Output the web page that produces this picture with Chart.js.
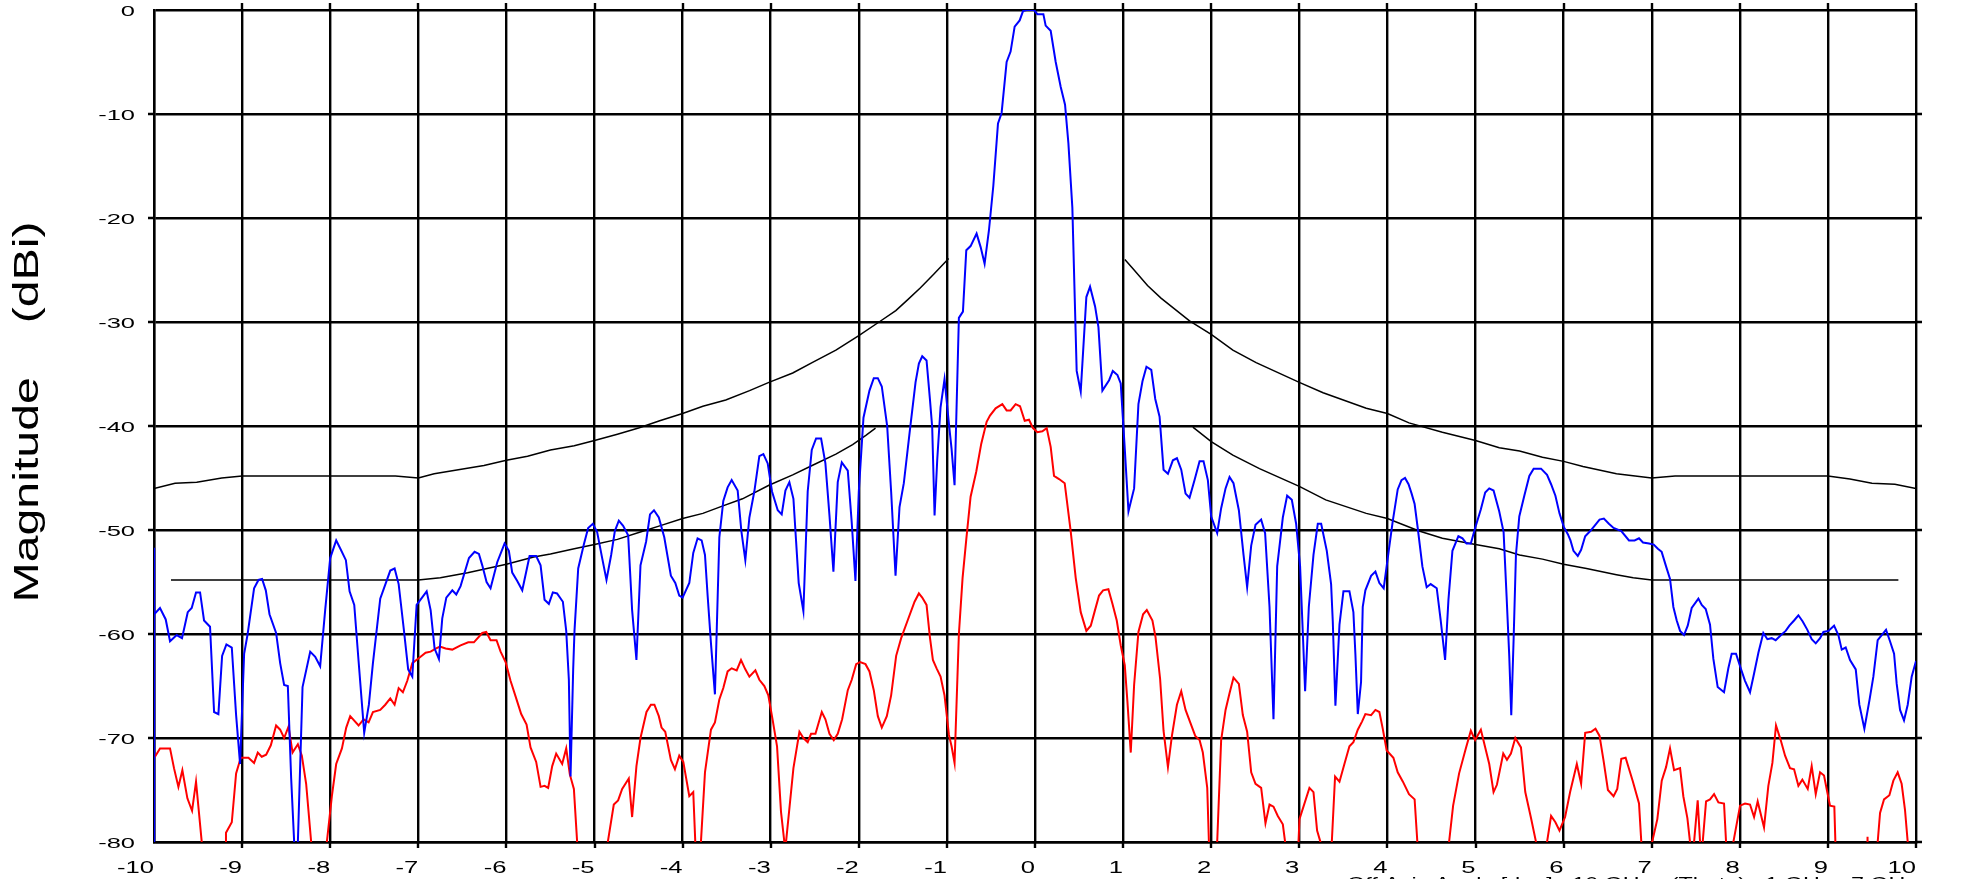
<!DOCTYPE html>
<html>
<head>
<meta charset="utf-8">
<title>Magnitude vs angle</title>
<script src="https://cdn.jsdelivr.net/npm/chart.js@4.4.1/dist/chart.umd.min.js"></script>
<style>
  html, body { margin: 0; padding: 0; background: #fff; }
  canvas { display: block; }
</style>
</head>
<body>
<canvas id="chartCanvas" width="1965" height="879"></canvas>
<script>
// axis ranges
var angleMin = -10, angleMax = 10, angleStep = 1
var gainMin = -80, gainMax = 0, gainStep = 10

var yTitle = 'Magnitude    (dBi)'
var xTitle = 'Off Axis Angle [deg]   10 GHz   (Theta)   1 GHz   7 GHz'

// co-polar pattern (blue); -100 = below the plotted range
var coAngle = [
  -10, -10, -9.995, -9.932, -9.867, -9.818, -9.742, -9.682, -9.617, -9.572, -9.523, -9.477, -9.432, -9.364,
  -9.318, -9.269, -9.227, -9.178, -9.117, -9.068, -9.023, -8.977, -8.939, -8.864, -8.814, -8.773, -8.731,
  -8.689, -8.614, -8.568, -8.523, -8.481, -8.443, -8.409, -8.405, -8.371, -8.367, -8.314, -8.227, -8.170,
  -8.114, -8.057, -8.000, -7.932, -7.879, -7.822, -7.780, -7.727, -7.678, -7.614, -7.561, -7.515, -7.432,
  -7.318, -7.269, -7.223, -7.165, -7.115, -7.068, -7.019, -6.905, -6.860, -6.815, -6.766, -6.728, -6.682,
  -6.614, -6.569, -6.520, -6.425, -6.361, -6.312, -6.274, -6.225, -6.180, -6.104, -6.021, -5.972, -5.934,
  -5.877, -5.820, -5.737, -5.662, -5.612, -5.567, -5.518, -5.473, -5.425, -5.359, -5.321, -5.291, -5.272,
  -5.242, -5.227, -5.185, -5.121, -5.072, -5.019, -4.970, -4.913, -4.864, -4.811, -4.769, -4.724, -4.675,
  -4.618, -4.573, -4.524, -4.478, -4.414, -4.370, -4.325, -4.270, -4.208, -4.133, -4.083, -4.038, -4.000,
  -3.924, -3.879, -3.830, -3.784, -3.746, -3.716, -3.678, -3.633, -3.583, -3.538, -3.489, -3.443, -3.375,
  -3.333, -3.288, -3.242, -3.186, -3.129, -3.083, -3.034, -2.985, -2.920, -2.875, -2.833, -2.788, -2.742,
  -2.682, -2.629, -2.580, -2.534, -2.485, -2.428, -2.379, -2.333, -2.288, -2.239, -2.193, -2.125, -2.080,
  -2.038, -2.000, -1.947, -1.879, -1.830, -1.784, -1.739, -1.678, -1.633, -1.583, -1.538, -1.489, -1.420,
  -1.356, -1.318, -1.280, -1.231, -1.193, -1.167, -1.140, -1.110, -1.072, -1.027, -0.977, -0.947, -0.913,
  -0.864, -0.818, -0.780, -0.731, -0.663, -0.617, -0.572, -0.523, -0.473, -0.420, -0.379, -0.322, -0.277,
  -0.231, -0.174, -0.136, -0.095, -0.011, 0.027, 0.095, 0.121, 0.178, 0.235, 0.292, 0.341, 0.379, 0.424,
  0.451, 0.473, 0.519, 0.583, 0.625, 0.682, 0.720, 0.765, 0.841, 0.883, 0.936, 0.973, 1.019, 1.061, 1.125,
  1.174, 1.220, 1.265, 1.320, 1.365, 1.414, 1.459, 1.509, 1.565, 1.611, 1.660, 1.709, 1.754, 1.811, 1.868,
  1.913, 1.962, 2.000, 2.068, 2.113, 2.163, 2.208, 2.253, 2.314, 2.367, 2.408, 2.454, 2.503, 2.567, 2.612,
  2.662, 2.707, 2.749, 2.813, 2.862, 2.915, 2.964, 3.009, 3.040, 3.066, 3.108, 3.161, 3.210, 3.248, 3.312,
  3.361, 3.380, 3.410, 3.456, 3.501, 3.569, 3.614, 3.637, 3.664, 3.701, 3.720, 3.750, 3.815, 3.864, 3.909,
  3.958, 4.015, 4.060, 4.117, 4.160, 4.200, 4.240, 4.275, 4.309, 4.347, 4.397, 4.446, 4.491, 4.560, 4.605,
  4.655, 4.693, 4.738, 4.806, 4.852, 4.898, 4.947, 4.996, 5.061, 5.110, 5.156, 5.205, 5.269, 5.319, 5.353,
  5.383, 5.406, 5.433, 5.459, 5.497, 5.554, 5.611, 5.660, 5.744, 5.812, 5.858, 5.907, 5.953, 6.002, 6.048,
  6.078, 6.112, 6.161, 6.199, 6.245, 6.302, 6.351, 6.408, 6.457, 6.514, 6.567, 6.655, 6.742, 6.806, 6.856,
  6.901, 6.970, 7.023, 7.070, 7.113, 7.163, 7.208, 7.246, 7.284, 7.322, 7.367, 7.409, 7.454, 7.530, 7.568,
  7.613, 7.662, 7.700, 7.749, 7.821, 7.870, 7.908, 7.957, 8.003, 8.059, 8.116, 8.162, 8.211, 8.267, 8.313,
  8.362, 8.407, 8.468, 8.521, 8.563, 8.616, 8.665, 8.714, 8.767, 8.816, 8.862, 8.911, 8.949, 9.006, 9.070,
  9.119, 9.157, 9.202, 9.251, 9.316, 9.357, 9.414, 9.471, 9.516, 9.565, 9.611, 9.660, 9.705, 9.751, 9.781,
  9.819, 9.864, 9.906, 9.951, 10.0
]
var coGain = [
  -51.7, -100, -58.1, -57.5, -58.6, -60.7, -60.1, -60.4, -57.9, -57.5, -56.0, -56.0, -58.7, -59.3,
  -67.5, -67.7, -62.1, -61.0, -61.3, -67.8, -72.5, -61.9, -60.1, -55.6, -54.8, -54.7, -55.8,
  -58.1, -59.9, -62.8, -64.9, -65.0, -73.9, -80, -100, -100, -80, -65.1, -61.7, -62.2,
  -63.1, -57.7, -52.7, -51.0, -51.9, -52.9, -55.9, -57.2, -62.6, -69.5, -66.8, -62.8, -56.6,
  -53.9, -53.7, -55.2, -59.5, -63.4, -64.1, -57.2, -55.9, -57.7, -61.4, -62.4, -58.5, -56.5,
  -55.8, -56.2, -55.4, -52.7, -52.1, -52.3, -53.4, -55.0, -55.6, -53.1, -51.3, -52.0, -54.1,
  -54.9, -55.8, -52.5, -52.5, -53.4, -56.7, -57.1, -56.0, -56.1, -56.9, -59.7, -64.4, -73.7,
  -63.4, -59.7, -53.7, -51.4, -49.8, -49.4, -50.2, -52.7, -54.8, -52.4, -50.1, -49.1, -49.6,
  -50.5, -57.7, -62.5, -53.4, -51.1, -48.5, -48.1, -48.8, -50.7, -54.4, -55.1, -56.3, -56.5,
  -55.1, -52.2, -50.8, -51.0, -52.4, -56.3, -60.9, -65.8, -50.7, -47.2, -45.9, -45.2, -46.2,
  -50.1, -52.9, -48.8, -46.3, -42.9, -42.7, -43.6, -46.3, -48.1, -48.5, -46.2, -45.4, -47.0,
  -55.1, -57.8, -46.3, -42.3, -41.2, -41.2, -43.6, -48.6, -54.0, -45.4, -43.5, -44.3, -49.3,
  -54.9, -46.3, -39.2, -36.6, -35.4, -35.4, -36.2, -40.0, -46.3, -54.4, -47.8, -45.5, -40.4,
  -35.8, -34.0, -33.3, -33.7, -37.4, -40.1, -48.6, -43.3, -38.2, -35.5, -39.8, -42.2, -45.7,
  -29.6, -29.0, -23.1, -22.7, -21.5, -22.8, -24.4, -21.2, -16.9, -10.9, -9.9, -5.0, -4.0,
  -1.6, -1.0, -0.1, 0, 0, -0.4, -0.4, -1.5, -2.0, -5.0, -7.4, -9.1, -12.8, -19.0,
  -27.7, -34.7, -36.7, -27.6, -26.6, -28.5, -30.5, -36.6, -35.6, -34.7, -35.1, -35.9, -42.2, -48.2, -46.0,
  -37.9, -35.7, -34.3, -34.6, -37.4, -39.1, -44.2, -44.6, -43.3, -43.1, -44.2, -46.5, -46.9, -45.2, -43.4,
  -43.4, -45.2, -48.7, -50.3, -47.9, -46.0, -44.9, -45.5, -48.1, -52.4, -55.5, -51.5, -49.5, -49.0, -50.3,
  -57.4, -68.2, -53.5, -48.8, -46.7, -47.1, -49.4, -53.5, -59.9, -65.5, -57.4, -52.4, -49.4, -49.4, -52.0,
  -55.2, -58.8, -66.9, -59.1, -55.9, -55.9, -57.9, -62.0, -67.7, -64.6, -57.4, -55.8, -54.4, -54.0, -55.1,
  -55.6, -52.0, -49.2, -46.1, -45.2, -45.0, -45.6, -46.5, -47.5, -50.0, -53.5, -55.5, -55.2, -55.6, -58.7,
  -62.5, -56.7, -52.0, -50.6, -50.8, -51.3, -51.3, -49.8, -48.0, -46.4, -46.0, -46.2, -48.2, -50.2, -56.4,
  -62.1, -67.8, -60.4, -52.4, -48.7, -46.7, -44.8, -44.1, -44.1, -44.7, -45.6, -46.7, -48.4, -49.7, -50.4,
  -51.0, -52.0, -52.5, -51.9, -50.6, -50.1, -49.6, -49.0, -48.9, -49.4, -49.8, -50.1, -51.0, -51.0, -50.8,
  -51.2, -51.3, -51.4, -51.8, -52.1, -53.5, -54.7, -57.4, -58.7, -59.7, -60.1, -59.2, -57.5, -56.6, -57.2,
  -57.6, -59.1, -62.4, -65.1, -65.6, -63.3, -61.9, -61.9, -63.1, -64.5, -65.6, -63.8, -61.8, -59.9, -60.5,
  -60.4, -60.6, -60.1, -59.7, -59.2, -58.7, -58.2, -58.8, -59.6, -60.5, -60.9, -60.4, -59.8, -59.7, -59.2,
  -60.1, -61.5, -61.3, -62.5, -63.4, -66.8, -69.1, -66.4, -64.1, -60.6, -60.1, -59.6, -60.7, -61.9, -64.8,
  -67.3, -68.3, -66.8, -64.1, -62.6
]

// cross-polar pattern (red)
var xpAngle = [
  -9.989, -9.932, -9.818, -9.773, -9.723, -9.678, -9.621, -9.568, -9.523, -9.458, -9.45, -9.19, -9.183,
  -9.117, -9.068, -9.015, -8.928, -8.864, -8.822, -8.777, -8.727, -8.674, -8.614, -8.568, -8.523, -8.473,
  -8.427, -8.367, -8.322, -8.273, -8.216, -8.21, -8.045, -8.038, -7.981, -7.932, -7.867, -7.818, -7.773,
  -7.678, -7.621, -7.564, -7.515, -7.432, -7.375, -7.318, -7.269, -7.223, -7.175, -7.125, -7.068, -6.992,
  -6.917, -6.860, -6.803, -6.754, -6.690, -6.614, -6.520, -6.433, -6.369, -6.274, -6.229, -6.180, -6.112,
  -6.066, -6.009, -5.953, -5.896, -5.832, -5.771, -5.726, -5.662, -5.612, -5.567, -5.526, -5.480, -5.435,
  -5.367, -5.321, -5.280, -5.234, -5.197, -5.19, -4.856, -4.849, -4.781, -4.732, -4.686, -4.611, -4.573,
  -4.524, -4.478, -4.410, -4.360, -4.320, -4.270, -4.239, -4.197, -4.133, -4.087, -4.038, -3.992, -3.924,
  -3.879, -3.856, -3.85, -3.80, -3.792, -3.746, -3.678, -3.633, -3.583, -3.538, -3.489, -3.443, -3.386,
  -3.337, -3.288, -3.242, -3.174, -3.129, -3.072, -3.027, -2.977, -2.928, -2.883, -2.845, -2.835, -2.826,
  -2.742, -2.674, -2.629, -2.580, -2.542, -2.492, -2.420, -2.379, -2.333, -2.284, -2.239, -2.189, -2.125,
  -2.080, -2.030, -1.985, -1.924, -1.879, -1.830, -1.784, -1.739, -1.682, -1.633, -1.576, -1.519, -1.450,
  -1.367, -1.318, -1.280, -1.231, -1.193, -1.159, -1.117, -1.072, -1.027, -0.977, -0.947, -0.913, -0.864,
  -0.822, -0.780, -0.731, -0.667, -0.610, -0.549, -0.511, -0.447, -0.371, -0.322, -0.277, -0.220, -0.170,
  -0.117, -0.068, -0.023, 0.027, 0.083, 0.133, 0.178, 0.216, 0.273, 0.337, 0.405, 0.462, 0.519, 0.583,
  0.633, 0.678, 0.727, 0.773, 0.833, 0.879, 0.928, 0.973, 1.019, 1.049, 1.087, 1.125, 1.174, 1.227, 1.269,
  1.333, 1.368, 1.420, 1.459, 1.509, 1.554, 1.611, 1.660, 1.709, 1.766, 1.819, 1.868, 1.905, 1.955, 1.974,
  1.98, 2.062, 2.068, 2.113, 2.163, 2.208, 2.253, 2.314, 2.359, 2.408, 2.454, 2.503, 2.567, 2.616, 2.662,
  2.707, 2.756, 2.813, 2.839, 2.845, 2.985, 2.991, 3.002, 3.115, 3.161, 3.202, 3.240, 3.245, 3.364, 3.369,
  3.406, 3.456, 3.512, 3.569, 3.614, 3.664, 3.713, 3.750, 3.815, 3.864, 3.909, 3.947, 3.992, 4.068, 4.117,
  4.176, 4.245, 4.309, 4.340, 4.345, 4.695, 4.700, 4.746, 4.814, 4.890, 4.947, 4.996, 5.061, 5.156, 5.205,
  5.243, 5.315, 5.357, 5.402, 5.452, 5.516, 5.565, 5.630, 5.687, 5.692, 5.807, 5.812, 5.858, 5.907, 5.953,
  6.017, 6.074, 6.150, 6.199, 6.245, 6.313, 6.362, 6.408, 6.454, 6.503, 6.567, 6.609, 6.655, 6.704, 6.787,
  6.856, 6.882, 6.887, 7.000, 7.005, 7.064, 7.114, 7.163, 7.208, 7.254, 7.322, 7.359, 7.405, 7.435, 7.44,
  7.476, 7.481, 7.522, 7.549, 7.554, 7.574, 7.579, 7.617, 7.662, 7.708, 7.757, 7.821, 7.844, 7.849, 7.922,
  7.927, 8.003, 8.059, 8.116, 8.162, 8.203, 8.275, 8.324, 8.370, 8.411, 8.464, 8.514, 8.570, 8.616, 8.665,
  8.710, 8.771, 8.816, 8.862, 8.911, 8.956, 8.986, 9.024, 9.073, 9.085, 9.09, 9.43, 9.45, 9.47, 9.56,
  9.565, 9.592, 9.637, 9.698, 9.743, 9.792, 9.837, 9.875, 9.906, 9.91, 10.0
]
var xpGain = [
  -71.8, -71.0, -71.0, -72.9, -74.7, -73.1, -75.8, -77.0, -74.2, -80, -100, -100, -79.1,
  -78.1, -73.4, -71.9, -71.9, -72.4, -71.4, -71.8, -71.6, -70.7, -68.8, -69.2, -70.0, -68.9,
  -71.4, -70.6, -71.7, -74.4, -80, -100, -100, -80, -75.6, -72.5, -71.0, -69.0, -67.9,
  -68.8, -68.2, -68.5, -67.5, -67.3, -66.8, -66.2, -66.8, -65.2, -65.6, -64.5, -62.8, -62.3,
  -61.8, -61.7, -61.4, -61.2, -61.4, -61.5, -61.1, -60.8, -60.8, -59.9, -59.8, -60.6, -60.6,
  -61.7, -62.7, -64.5, -66.0, -67.7, -68.7, -70.9, -72.3, -74.7, -74.6, -74.8, -72.7, -71.5,
  -72.5, -71.0, -73.5, -74.9, -80, -100, -100, -80, -76.4, -76.0, -74.9, -73.9, -77.6,
  -72.7, -70.0, -67.5, -66.8, -66.8, -67.9, -69.0, -69.4, -72.1, -73.0, -71.7, -72.3, -75.6,
  -75.2, -80, -100, -100, -80, -73.3, -69.2, -68.5, -66.3, -65.2, -63.6, -63.3, -63.5,
  -62.5, -63.4, -64.1, -63.5, -64.4, -65.0, -65.9, -68.3, -70.8, -77.1, -80, -100, -80,
  -72.9, -69.4, -70.0, -70.4, -69.6, -69.6, -67.5, -68.2, -69.6, -70.2, -69.6, -68.2, -65.4,
  -64.4, -62.9, -62.7, -62.9, -63.6, -65.4, -67.9, -69.0, -67.9, -65.9, -62.1, -60.4, -58.8,
  -56.9, -56.1, -56.5, -57.2, -60.3, -62.5, -63.3, -64.1, -65.9, -69.7, -70.8, -72.4, -60.0,
  -54.6, -50.9, -46.8, -44.4, -41.7, -39.6, -39.0, -38.3, -37.9, -38.5, -38.5, -37.9, -38.1,
  -39.5, -39.4, -40.2, -40.6, -40.5, -40.2, -42.0, -44.8, -45.1, -45.5, -50.1, -54.6, -57.9, -59.7,
  -59.2, -57.8, -56.3, -55.8, -55.7, -57.1, -58.7, -61.1, -63.0, -66.5, -71.4, -64.9, -59.8, -58.1, -57.7,
  -58.7, -60.3, -64.3, -69.3, -72.8, -69.8, -66.8, -65.5, -67.3, -68.6, -69.8, -70.2, -71.4, -74.8, -80,
  -100, -100, -80, -70.2, -67.3, -65.7, -64.2, -64.8, -67.8, -69.4, -73.3, -74.4, -74.8, -78.2, -76.4,
  -76.6, -77.5, -78.3, -80, -100, -100, -80, -77.8, -74.8, -75.2, -78.9, -80, -100, -100, -80,
  -73.7, -74.2, -72.5, -70.8, -70.4, -69.2, -68.4, -67.7, -67.8, -67.3, -67.5, -69.1, -71.2, -71.9, -73.3,
  -74.2, -75.4, -75.9, -80, -100, -100, -80, -76.5, -73.4, -71.0, -69.3, -70.2, -69.2, -72.5, -75.2,
  -74.5, -71.5, -72.1, -71.5, -70.0, -70.9, -75.2, -77.7, -80, -100, -100, -80, -77.5, -78.1, -78.9,
  -77.6, -75.2, -72.5, -74.4, -69.5, -69.4, -69.1, -69.8, -72.2, -75.0, -75.6, -74.9, -72.0, -71.9, -74.2,
  -76.3, -80, -100, -100, -80, -77.8, -74.1, -72.8, -71.0, -73.1, -72.9, -75.6, -77.7, -80, -100,
  -100, -80, -76.0, -80, -100, -100, -80, -76.1, -75.9, -75.4, -76.2, -76.3, -80, -100, -100,
  -80, -76.5, -76.3, -76.4, -77.6, -76.1, -78.6, -74.6, -72.4, -68.8, -70.2, -71.7, -72.9, -73.0, -74.6,
  -74.0, -74.9, -72.7, -75.4, -73.3, -73.6, -74.9, -76.5, -76.6, -80, -100, -100, -79.5, -100, -100,
  -80, -77.2, -75.9, -75.5, -74.1, -73.3, -74.4, -76.9, -80, -100, -100
]

// sidelobe mask lines (black)
var maskUpLeftAngle = [-10, -9.761, -9.515, -9.231, -9.0, -7.26, -7.0, -6.82, -6.255, -6.0, -5.76, -5.5, -5.23,
  -5.0, -4.74, -4.5, -4.26, -4.0, -3.77, -3.51, -3.24, -3.02, -2.75, -2.53, -2.26, -2.0, -1.77, -1.58, -1.45,
  -1.30, -1.15, -0.98]
var maskUpLeftGain = [-46.0, -45.5, -45.4, -45.0, -44.8, -44.8, -45.0, -44.6, -43.8, -43.3, -42.9, -42.3, -41.9,
  -41.4, -40.8, -40.2, -39.5, -38.8, -38.1, -37.5, -36.6, -35.8, -34.9, -33.9, -32.7, -31.3, -30.0, -28.9, -27.9,
  -26.7, -25.4, -23.9]
var maskUpRightAngle = [1.02, 1.125, 1.277, 1.43, 1.754, 2.0, 2.246, 2.51, 3.0, 3.27, 3.76, 4.0, 4.245, 4.624,
  5.0, 5.27, 5.5, 5.76, 6.0, 6.22, 6.6, 7.0, 7.265, 9.0, 9.25, 9.5, 9.76, 10.0]
var maskUpRightGain = [-24.0, -25.0, -26.5, -27.7, -29.9, -31.2, -32.7, -33.9, -35.8, -36.8, -38.3, -38.8, -39.7, -40.6,
  -41.4, -42.1, -42.4, -43.0, -43.4, -43.9, -44.6, -45.0, -44.8, -44.8, -45.1, -45.5, -45.6, -46.0]
var maskLowLeftAngle = [-9.807, -7.0, -6.75, -6.44, -6.22, -6.0, -5.69, -5.5, -5.23, -5.0, -4.74, -4.48, -4.26,
  -4.0, -3.77, -3.55, -3.32, -3.02, -2.75, -2.53, -2.26, -2.07, -1.92, -1.81]
var maskLowLeftGain = [-54.8, -54.8, -54.6, -54.1, -53.7, -53.3, -52.6, -52.3, -51.8, -51.4, -50.9, -50.2, -49.6,
  -48.9, -48.4, -47.7, -47.0, -45.7, -44.7, -43.8, -42.7, -41.8, -40.9, -40.2]
var maskLowRightAngle = [1.792, 2.0, 2.246, 2.548, 3.0, 3.3, 3.76, 4.0, 4.36, 4.624, 5.0, 5.27, 5.5, 5.76, 6.0,
  6.26, 6.6, 6.79, 7.0, 9.8]
var maskLowRightGain = [-40.1, -41.5, -42.8, -44.1, -45.8, -47.1, -48.4, -48.9, -50.1, -50.8, -51.4, -51.8, -52.4,
  -52.8, -53.3, -53.7, -54.3, -54.6, -54.8, -54.8]

function toPoints(xs, ys) {
  return xs.map((x, i) => ({ x: x, y: ys[i] }))
}

function series(xs, ys, color, width) {
  return {
    data: toPoints(xs, ys),
    showLine: true,
    borderColor: color,
    borderWidth: width,
    pointRadius: 0,
    fill: false,
    tension: 0
  }
}

// draws text squeezed/stretched along its own direction
function wideText(ctx, text, px, py, sx, align, angle) {
  ctx.save()
  ctx.translate(px, py)
  if (angle) ctx.rotate(angle)
  ctx.scale(sx, 1)
  ctx.textAlign = align
  ctx.textBaseline = 'alphabetic'
  ctx.fillText(text, 0, 0)
  ctx.restore()
}

// tick marks outside the frame plus tick labels and axis titles
var frameDecor = {
  id: 'frameDecor',
  afterDraw(chart) {
    var ctx = chart.ctx
    var a = chart.chartArea
    var xs = chart.scales.x
    var ys = chart.scales.y

    ctx.save()
    ctx.strokeStyle = '#000'
    ctx.lineWidth = 2.4
    ctx.beginPath()
    xs.ticks.forEach(t => {
      var px = Math.round(xs.getPixelForValue(t.value))
      if (t.value > angleMin) {
        ctx.moveTo(px, a.top - 7); ctx.lineTo(px, a.top)
        ctx.moveTo(px, a.bottom); ctx.lineTo(px, a.bottom + 6)
      }
    })
    ys.ticks.forEach(t => {
      var py = Math.round(ys.getPixelForValue(t.value))
      if (t.value < gainMax) {
        ctx.moveTo(a.right, py); ctx.lineTo(a.right + 6, py)
        if (t.value > gainMin) { ctx.moveTo(a.left - 6, py); ctx.lineTo(a.left, py) }
      }
    })
    ctx.stroke()

    ctx.fillStyle = '#000'
    ctx.font = '15px "Liberation Sans", Arial, sans-serif'
    ys.ticks.forEach(t => {
      var py = ys.getPixelForValue(t.value)
      wideText(ctx, String(t.value), a.left - 19, py + 5.5, 1.7, 'right')
    })
    ctx.font = '16px "Liberation Sans", Arial, sans-serif'
    xs.ticks.forEach(t => {
      var px = xs.getPixelForValue(t.value)
      wideText(ctx, String(t.value), px, a.bottom + 31, 1.6, 'right')
    })

    // y title, rotated
    ctx.font = '35px "Liberation Sans", Arial, sans-serif'
    wideText(ctx, yTitle, 38, 412, 1.38, 'center', -Math.PI / 2)

    // x title, mostly below the bottom edge
    ctx.font = '16px "Liberation Sans", Arial, sans-serif'
    var w = ctx.measureText(xTitle).width
    wideText(ctx, xTitle, a.right + 1, a.bottom + 47, 570 / w, 'right')
    ctx.restore()
  }
}

var gridStyle = { color: '#000', lineWidth: 2.4, drawTicks: false }
var borderStyle = { color: '#000', width: 2.4 }

var myChart = new Chart(document.getElementById('chartCanvas'), {
  type: 'scatter',
  data: {
    datasets: [
      series(coAngle, coGain, '#0000ff', 2),
      series(xpAngle, xpGain, '#ff0000', 2),
      series(maskUpLeftAngle, maskUpLeftGain, '#000000', 1.5),
      series(maskUpRightAngle, maskUpRightGain, '#000000', 1.5),
      series(maskLowLeftAngle, maskLowLeftGain, '#000000', 1.5),
      series(maskLowRightAngle, maskLowRightGain, '#000000', 1.5)
    ]
  },
  options: {
    responsive: false,
    animation: false,
    devicePixelRatio: 1,
    events: [],
    layout: { padding: { left: 154, top: 10, right: 49, bottom: 37 } },
    plugins: { legend: { display: false }, tooltip: { enabled: false } },
    scales: {
      x: {
        type: 'linear', min: angleMin, max: angleMax,
        ticks: { stepSize: angleStep, display: false },
        grid: gridStyle, border: borderStyle
      },
      y: {
        type: 'linear', min: gainMin, max: gainMax,
        ticks: { stepSize: gainStep, display: false },
        grid: gridStyle, border: borderStyle
      }
    }
  },
  plugins: [frameDecor]
})
</script>
</body>
</html>
